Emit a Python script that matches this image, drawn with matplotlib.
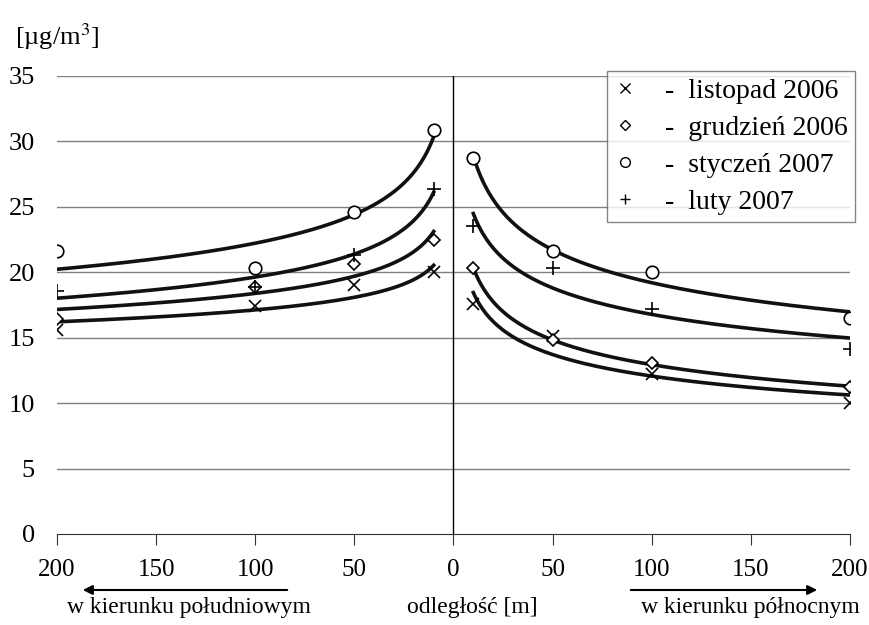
import numpy as np
import matplotlib
matplotlib.use("Agg")
import matplotlib.pyplot as plt

plt.rcParams['font.family'] = ['Liberation Serif', 'DejaVu Serif']

# distances [m] of the measuring points
dist = [200, 100, 50, 10]

# concentrations south side (po lewej) and north side (po prawej)
series = ["listopad 2006", "grudzień 2006", "styczeń 2007", "luty 2007"]
south = {
    "listopad 2006": [15.6, 17.4, 19.0, 20.0],
    "grudzień 2006": [16.4, 18.9, 20.6, 22.5],
    "styczeń 2007": [21.6, 20.3, 24.6, 30.9],
    "luty 2007": [18.6, 18.9, 21.3, 26.4],
}
north = {
    "listopad 2006": [10.0, 12.2, 15.1, 17.6],
    "grudzień 2006": [11.2, 13.1, 14.8, 20.3],
    "styczeń 2007": [16.5, 20.0, 21.6, 28.7],
    "luty 2007": [14.1, 17.2, 20.3, 23.5],
}
markers = {"listopad 2006": "x", "grudzień 2006": "D", "styczeń 2007": "o", "luty 2007": "+"}
msize = {"listopad 2006": 9, "grudzień 2006": 6, "styczeń 2007": 9, "luty 2007": 10}

xticks = [-200, -150, -100, -50, 0, 50, 100, 150, 200]
yticks = [0, 5, 10, 15, 20, 25, 30, 35]


def power_fit(d, v):
    # same as Excel power trendline: ln(y) = b ln(x) + ln(a)
    b, lna = np.polyfit(np.log(d), np.log(v), 1)
    xs = np.linspace(10, 200, 200)
    return xs, np.exp(lna) * xs ** b


fig = plt.figure(figsize=(8.7, 6.25), dpi=100)
ax = fig.add_axes([57 / 870, 1 - 534 / 625, (850 - 57) / 870, (534 - 76) / 625])

for s in yticks[1:]:
    ax.axhline(s, color='#808080', lw=1, zorder=1)
ax.plot([0, 0], [0, 35], color='black', lw=1, zorder=2)

d = np.array(dist, dtype=float)
for name in series:
    m = markers[name]
    kw = dict(ls='none', marker=m, ms=msize[name], color='black', zorder=4)
    if m in ('o', 'D'):
        kw.update(mfc='white', mec='black', mew=1.2)
    else:
        kw.update(mew=1.2)
    ax.plot(-d, south[name], **kw)
    ax.plot(d, north[name], **kw)
    xs, ys = power_fit(d, south[name])
    ax.plot(-xs, ys, color='#111111', lw=2.6, zorder=3)
    xs, ys = power_fit(d, north[name])
    ax.plot(xs, ys, color='#111111', lw=2.6, zorder=3)

ax.set_xlim(-200, 200)
ax.set_ylim(0, 35)
ax.set_xticks(xticks)
ax.set_xticklabels([str(abs(t)) for t in xticks])
ax.set_yticks(yticks)
ax.tick_params(axis='y', length=0, pad=16, labelsize=19)
ax.tick_params(axis='x', length=8, direction='out', pad=10, labelsize=18, color='#333333')
for sp in ('left', 'right', 'top'):
    ax.spines[sp].set_visible(False)
ax.spines['bottom'].set_color('#333333')

# legend built from the drawn series
handles = []
for name in series:
    m = markers[name]
    h, = ax.plot([], [], ls='none', marker=m, ms=7 if m != 'D' else 5, color='black',
                 mfc='white' if m in ('o', 'D') else 'black', mew=1)
    handles.append(h)
leg = ax.legend(handles, ["-  " + n for n in series], loc='upper right',
                bbox_to_anchor=(1.006, 1.01), fontsize=20, frameon=True, fancybox=False,
                edgecolor='#666666', handlelength=0.8, handletextpad=1.05,
                borderpad=0.25, labelspacing=0.42, borderaxespad=0)
leg.get_frame().set_linewidth(1)
leg.set_zorder(5)

fig.text(15 / 870, 1 - 37 / 625, "[µg/m$^3$]", fontsize=19, va='center', ha='left',
         math_fontfamily='stix')

# arrows and direction labels under the axis
fig.patches.append(matplotlib.patches.FancyArrowPatch(
    (290 / 870, 1 - 590 / 625), (80 / 870, 1 - 590 / 625), transform=fig.transFigure,
    arrowstyle='-|>', mutation_scale=14, color='black', lw=1.5))
fig.patches.append(matplotlib.patches.FancyArrowPatch(
    (628 / 870, 1 - 590 / 625), (820 / 870, 1 - 590 / 625), transform=fig.transFigure,
    arrowstyle='-|>', mutation_scale=14, color='black', lw=1.5))
fig.text(189 / 870, 1 - 608 / 625, "w kierunku południowym", fontsize=17, ha='center', va='center')
fig.text(472 / 870, 1 - 608 / 625, "odległość [m]", fontsize=17, ha='center', va='center')
fig.text(750 / 870, 1 - 608 / 625, "w kierunku północnym", fontsize=17, ha='center', va='center')

fig.savefig("out.png", dpi=100)
